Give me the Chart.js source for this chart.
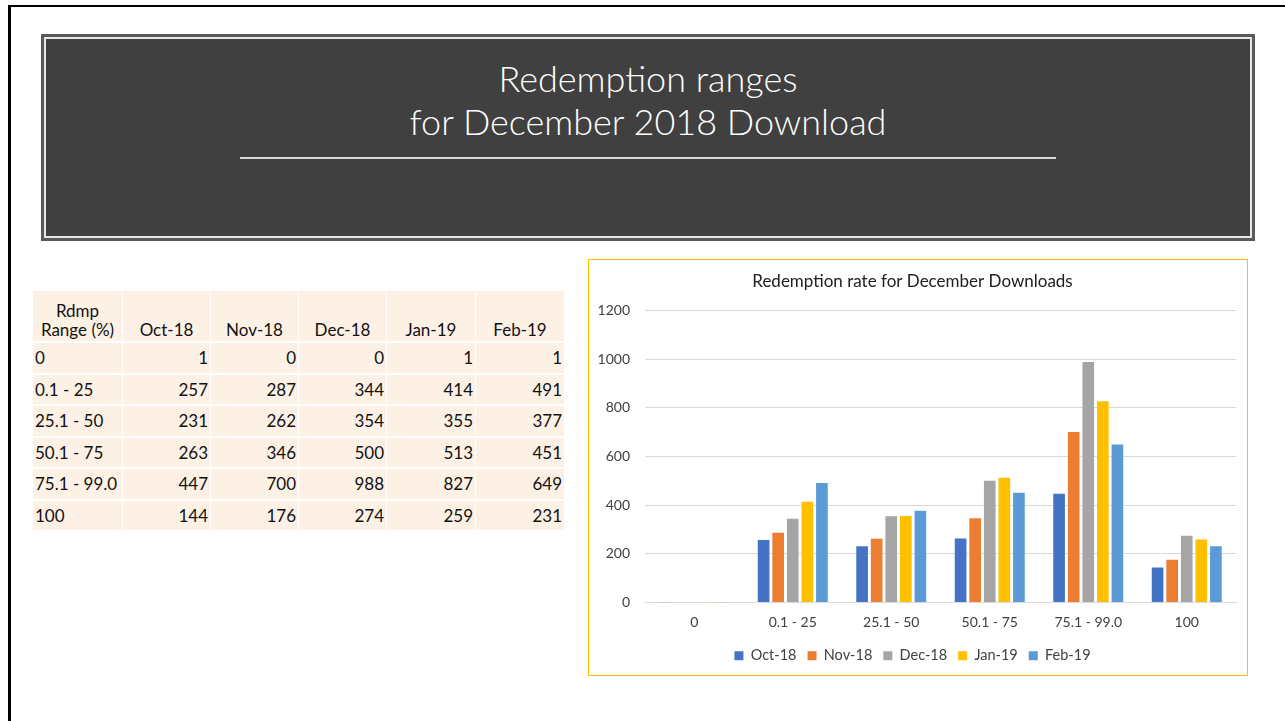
<!DOCTYPE html>
<html>
<head>
<meta charset="utf-8">
<script src="https://cdn.jsdelivr.net/npm/chart.js@4.4.1/dist/chart.umd.min.js"></script>
<style>
  html, body { margin: 0; padding: 0; background: #fff; }
  body { width: 1285px; height: 721px; position: relative; overflow: hidden; font-family: Lato, "Open Sans", sans-serif; }
  .frameTop { position: absolute; left: 8px; top: 5px; width: 1277px; height: 2px; background: #000; }
  .frameLeft { position: absolute; left: 8px; top: 5px; width: 3px; height: 716px; background: #000; }
  .titleBox { position: absolute; left: 41px; top: 34px; width: 1208px; height: 201px; background: #404040;
    border: 3px solid #5a5a5a; box-shadow: inset 0 0 0 2px #e8e8e8; }
  .titleText { position: absolute; left: 0; width: 100%; top: 20px; text-align: center; color: #fff;
    font-family: Lato, sans-serif; font-weight: 300; font-size: 36px; line-height: 43px; }
  .titleRule { position: absolute; left: 196px; top: 120px; width: 816px; height: 2px; background: #d9d9d9; }
  table { position: absolute; left: 33px; top: 291px; border-collapse: separate; border-spacing: 0;
    font-family: Lato, sans-serif; font-size: 17px; color: #111; }
  td, th { background: #fdf1e6; border-right: 1px solid #fff; border-bottom: 2px solid #fff; padding: 0 2px; font-weight: normal; }
  th { height: 48px; vertical-align: bottom; text-align: center; line-height: 19px; padding-bottom: 2px; }
  td { height: 29.5px; text-align: right; }
  td.lab { text-align: left; }
  .chartBox { position: absolute; left: 588px; top: 259px; width: 658px; height: 415px; border: 1px solid #ffc000; }
</style>
</head>
<body>
<div class="frameTop"></div>
<div class="frameLeft"></div>
<div class="titleBox">
  <div class="titleText">Redemption ranges<br>for December 2018 Download</div>
  <div class="titleRule"></div>
</div>
<table id="dataTable"></table>
<div class="chartBox"><canvas id="chart" width="658" height="415"></canvas></div>

<script>
// Data
const categories = ['0', '0.1 - 25', '25.1 - 50', '50.1 - 75', '75.1 - 99.0', '100'];
const seriesNames = ['Oct-18', 'Nov-18', 'Dec-18', 'Jan-19', 'Feb-19'];
const oct18 = [1, 257, 231, 263, 447, 144];
const nov18 = [0, 287, 262, 346, 700, 176];
const dec18 = [0, 344, 354, 500, 988, 274];
const jan19 = [1, 414, 355, 513, 827, 259];
const feb19 = [1, 491, 377, 451, 649, 231];
const yTicks = [0, 200, 400, 600, 800, 1000, 1200];

const seriesValues = [oct18, nov18, dec18, jan19, feb19];
const seriesColors = ['#4472c4', '#ed7d31', '#a5a5a5', '#ffc000', '#5b9bd5'];

// Table on the left
const table = document.getElementById('dataTable');
const widths = [85, 83, 83, 83, 84, 84];
let head = '<tr><th style="width:' + widths[0] + 'px">Rdmp<br>Range (%)</th>';
seriesNames.forEach((name, i) => {
    head += '<th style="width:' + widths[i + 1] + 'px">' + name + '</th>';
});
head += '</tr>';
let body = '';
categories.forEach((cat, r) => {
    body += '<tr><td class="lab">' + cat + '</td>';
    seriesValues.forEach(vals => { body += '<td>' + vals[r] + '</td>'; });
    body += '</tr>';
});
table.innerHTML = head + body;

// Chart
const ctx = document.getElementById('chart').getContext('2d');
new Chart(ctx, {
    type: 'bar',
    data: {
        labels: categories,
        datasets: seriesNames.map((name, i) => ({
            label: name,
            data: seriesValues[i],
            backgroundColor: seriesColors[i],
            borderWidth: 0,
            categoryPercentage: 0.74,
            barPercentage: 0.8
        }))
    },
    options: {
        responsive: false,
        animation: false,
        layout: { padding: { left: 0, right: 11, top: 0, bottom: 2 } },
        scales: {
            x: {
                grid: { display: false },
                border: { color: '#d9d9d9' },
                afterFit: scale => { scale.height = 35; },
                ticks: { color: '#404040', font: { family: 'Lato', size: 14 }, padding: 4 }
            },
            y: {
                min: 0,
                max: 1200,
                afterBuildTicks: scale => { scale.ticks = yTicks.map(v => ({ value: v })); },
                afterFit: scale => { scale.width = 56; },
                grid: { color: '#d9d9d9', drawTicks: false },
                border: { display: false },
                ticks: { color: '#404040', font: { family: 'Lato', size: 14 }, padding: 15, callback: v => String(v) }
            }
        },
        plugins: {
            title: {
                display: true,
                text: 'Redemption rate for December Downloads',
                color: '#202020',
                font: { family: 'Lato', size: 17, weight: 'normal' },
                padding: { top: 11, bottom: 19 }
            },
            legend: {
                position: 'bottom',
                labels: { boxWidth: 9, boxHeight: 9, color: '#404040', font: { family: 'Lato', size: 14.5 }, padding: 11 }
            },
            tooltip: { enabled: false }
        }
    }
});
</script>
</body>
</html>
